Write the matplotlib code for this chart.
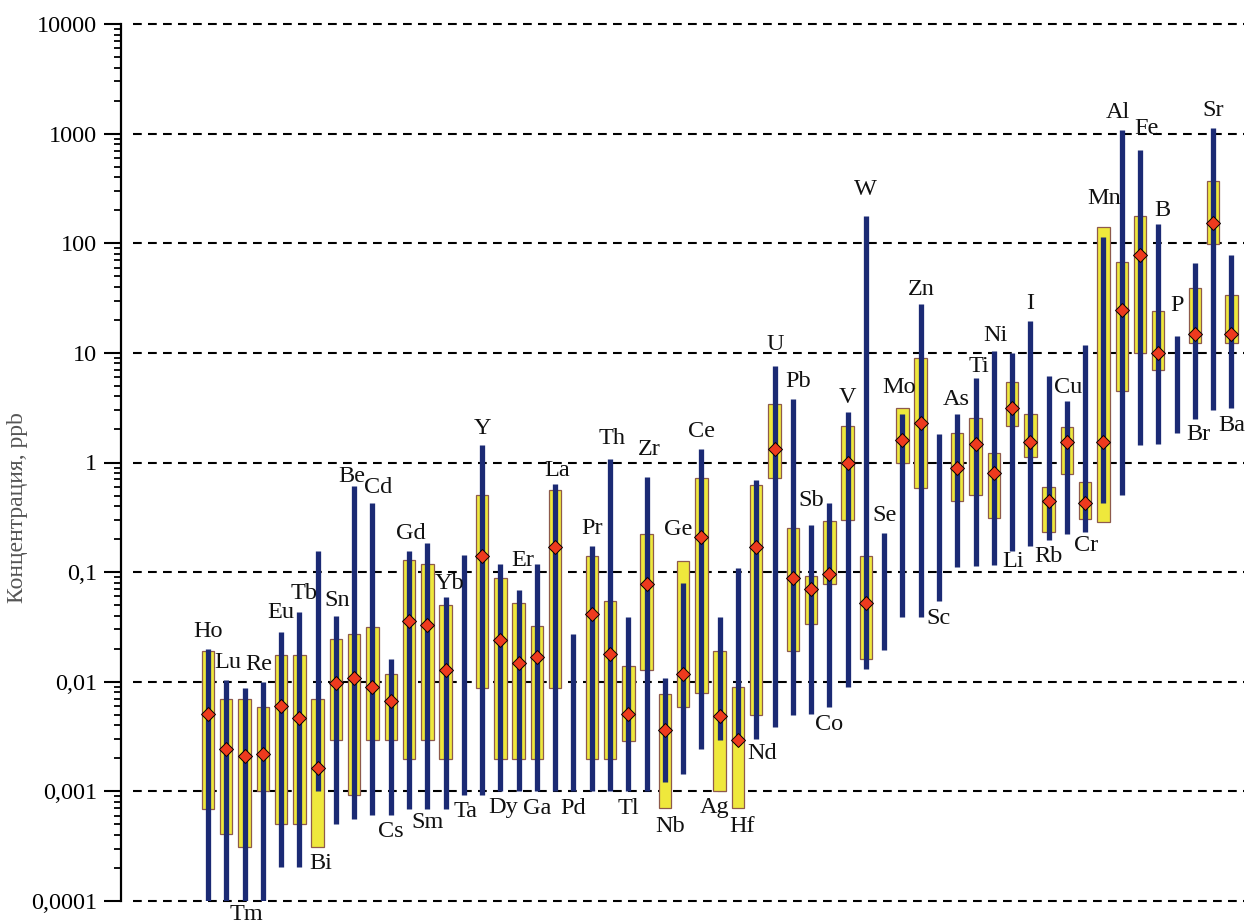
import numpy as np
import matplotlib
matplotlib.use("Agg")
import matplotlib.pyplot as plt
from matplotlib.ticker import LogLocator, FixedLocator, NullFormatter

plt.rcParams['font.family'] = ['Liberation Serif', 'DejaVu Serif']

# элементы в порядке возрастания
elements = ["Ho", "Lu", "Tm", "Re", "Eu", "Tb", "Bi", "Sn", "Be", "Cd", "Cs", "Gd", "Sm", "Yb",
            "Ta", "Y", "Dy", "Er", "Ga", "La", "Pd", "Pr", "Th", "Tl", "Zr", "Nb", "Ge", "Ce",
            "Ag", "Hf", "Nd", "U", "Pb", "Sb", "Co", "V", "W", "Se", "Mo", "Zn", "Sc", "As",
            "Ti", "Ni", "Li", "I", "Rb", "Cu", "Cr", "Mn", "Al", "Fe", "B", "P", "Br", "Sr", "Ba"]

# диапазон (min - max), ppb
range_lo = [0.0001, 0.0001, 0.0001, 0.0001, 0.000204, 0.000204, 0.001, 0.000507, 0.000564, 0.000613,
            0.000613, 0.000695, 0.000695, 0.000695, 0.00092, 0.00092, 0.001, 0.001, 0.001, 0.001,
            0.001, 0.001, 0.001, 0.001, 0.001, 0.00121, 0.00144, 0.00243, 0.00292, 0.00267,
            0.003, 0.0039, 0.005, 0.00506, 0.00585, 0.0089, 0.0132, 0.0195, 0.039, 0.039,
            0.054, 0.111, 0.113, 0.116, 0.155, 0.174, 0.198, 0.223, 0.232, 0.424,
            0.506, 1.44, 1.49, 1.85, 2.51, 3.0, 3.12]
range_hi = [0.0199, 0.0104, 0.0088, 0.0100, 0.0282, 0.043, 0.155, 0.0397, 0.608, 0.43,
            0.0161, 0.155, 0.184, 0.0588, 0.143, 1.43, 0.118, 0.0685, 0.118, 0.641,
            0.027, 0.174, 1.076, 0.0388, 0.731, 0.0108, 0.079, 1.33, 0.0389, 0.108,
            0.695, 7.6, 3.82, 0.268, 0.424, 2.9, 177, 0.229, 2.77, 27.9,
            1.82, 2.77, 5.94, 10.3, 10.0, 19.6, 6.13, 3.64, 11.7, 113,
            1085, 708, 149, 14.4, 65.9, 1130, 78.6]

# интерквартильный размах (жёлтые прямоугольники)
q_lo = [0.00069, 0.00041, 0.00031, 0.0010, 0.0005, 0.0005, 0.00031, 0.00296, 0.00092, 0.00296,
        0.00296, 0.00197, 0.00296, 0.00197, np.nan, 0.0088, 0.00197, 0.00197, 0.00197, 0.0088,
        np.nan, 0.00197, 0.00197, 0.0029, 0.0127, 0.0007, 0.00588, 0.0079, 0.001, 0.0007,
        0.005, 0.726, 0.0192, 0.0333, 0.0786, 0.298, 0.0162, np.nan, 1.0, 0.585,
        np.nan, 0.441, 0.505, 0.31, 2.14, 1.13, 0.232, 0.786, 0.307, 0.284,
        4.48, 10.0, 6.97, np.nan, 12.2, 98, 12.2]
q_hi = [0.0191, 0.00695, 0.00695, 0.00588, 0.0176, 0.0176, 0.00695, 0.0245, 0.0275, 0.0313,
        0.0117, 0.128, 0.1175, 0.050, np.nan, 0.508, 0.0883, 0.052, 0.032, 0.567,
        np.nan, 0.139, 0.0542, 0.0138, 0.224, 0.00775, 0.127, 0.726, 0.0189, 0.0089,
        0.618, 3.39, 0.255, 0.0923, 0.29, 2.16, 0.139, np.nan, 3.12, 8.94,
        np.nan, 1.85, 2.54, 1.22, 5.48, 2.77, 0.594, 2.09, 0.67, 140,
        67, 178, 24.2, np.nan, 39.4, 373, 33.8]

# медиана
median = [0.00507, 0.00243, 0.00211, 0.00221, 0.00596, 0.00467, 0.00162, 0.0098, 0.0109, 0.0089,
          0.00667, 0.036, 0.0327, 0.0129, np.nan, 0.139, 0.024, 0.0149, 0.0169, 0.169,
          np.nan, 0.0414, 0.0179, 0.00508, 0.078, 0.0036, 0.0118, 0.207, 0.0049, 0.00296,
          0.17, 1.32, 0.0887, 0.0697, 0.097, 0.98, 0.0518, np.nan, 1.62, 2.27,
          np.nan, 0.887, 1.46, 0.8, 3.15, 1.53, 0.441, 1.53, 0.43, 1.53,
          24.4, 78.6, 10.0, np.nan, 15.0, 152, 15.0]

# подписи снизу
below = {"Tm", "Bi", "Cs", "Sm", "Ta", "Dy", "Ga", "Pd", "Tl", "Nb", "Ag", "Hf", "Nd",
         "Co", "Sc", "Li", "Rb", "Cr", "Br", "Ba"}
# ручные сдвиги подписей (dx, отступ), пиксели
label_shift = {"Lu": (2, 17), "Re": (-4, 17), "Eu": (0, 20), "Tb": (5, 19), "Bi": (3, 16),
               "Be": (-2, 10), "Cd": (6, 15), "Gd": (2, 18), "Yb": (4, 14), "Ta": (2, 16),
               "Dy": (3, 16), "Er": (4, 30), "La": (2, 13), "Th": (2, 21), "Zr": (3, 28),
               "Nb": (5, 18), "Ge": (-5, 31), "Ag": (-5, 16), "Hf": (4, 18), "Nd": (6, 14),
               "U": (1, 21), "Pb": (5, 17), "Sb": (0, 25), "V": (0, 14), "W": (0, 27),
               "Mo": (-3, 21), "Zn": (1, 15), "As": (-1, 14), "Ti": (3, 11), "Ni": (2, 16),
               "Li": (1, 10), "Cu": (1, 13), "Cr": (1, 13), "Mn": (1, 29), "Al": (-4, 17),
               "Fe": (6, 22), "B": (4, 14), "P": (0, 30), "Br": (4, 16), "Ba": (0, 17),
               "Tm": (2, 14), "Sm": (0, 14), "Sn": (1, 16)}

x = np.arange(len(elements))
fig = plt.figure(figsize=(12.46, 9.24), dpi=100)
ax = fig.add_axes([121 / 1246, 23 / 924, 1 - 121 / 1246, 877 / 924])

ax.set_yscale('log')
ax.set_ylim(1e-4, 1e4)
ax.set_xlim(-4.76, 56.8)

for yv in 10.0 ** np.arange(-4, 5):
    ax.axhline(yv, xmin=0.011, xmax=0.998, color='black', lw=1.5,
               ls=(0, (4.2, 3)), zorder=1, clip_on=False)

lo = np.array(q_lo)
hi = np.array(q_hi)
ax.bar(x, hi - lo, bottom=lo, width=0.68, color='#EFE83C', edgecolor='#8E5A4C',
       linewidth=0.9, zorder=2)
ax.vlines(x, range_lo, range_hi, color='#1B2A74', lw=3.8, zorder=3)
ax.plot(x, median, ls='none', marker='D', ms=7, mfc='#EE3A1E', mec='black',
        mew=0.7, zorder=4)

for i, name in enumerate(elements):
    dx, dy = label_shift.get(name, (0, 17))
    if name in below:
        anchor = np.nanmin([range_lo[i], q_lo[i]])
        off = (dx, -dy)
    else:
        anchor = np.nanmax([range_hi[i], q_hi[i]])
        off = (dx, dy)
    ax.annotate(name, (x[i], anchor), xytext=off, textcoords='offset pixels',
                ha='center', va='center', fontsize=17.5, color='#111111',
                annotation_clip=False, zorder=5)

for s in ['top', 'right', 'bottom']:
    ax.spines[s].set_visible(False)
ax.spines['left'].set_linewidth(1.6)
ax.set_xticks([])

ax.yaxis.set_major_locator(FixedLocator(10.0 ** np.arange(-4, 5)))
ax.set_yticklabels(["0,0001", "0,001", "0,01", "0,1", "1", "10", "100", "1000", "10000"])
ax.yaxis.set_minor_locator(LogLocator(base=10, subs=np.arange(2, 10), numticks=20))
ax.yaxis.set_minor_formatter(NullFormatter())
ax.tick_params(axis='y', which='major', length=12, width=1.5, labelsize=17.5, pad=5)
ax.tick_params(axis='y', which='minor', length=5, width=1.3)
ax.set_ylabel("Концентрация, ppb", fontsize=17, color='#555555', va='center')
ax.yaxis.set_label_coords(-0.0916, 0.449)

fig.savefig("out.png", dpi=100)
